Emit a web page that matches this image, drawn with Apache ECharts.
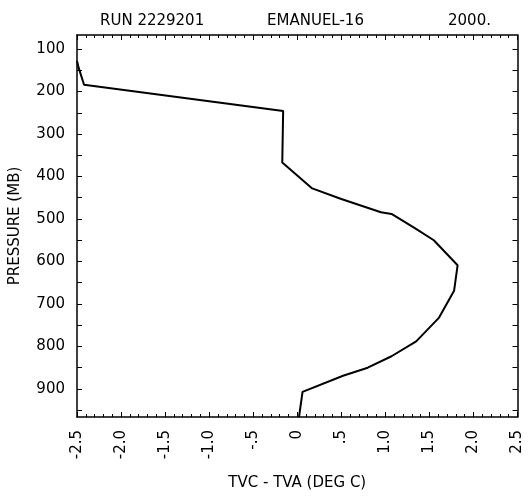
<!DOCTYPE html>
<html><head><meta charset="utf-8">
<script src="https://cdn.jsdelivr.net/npm/echarts@6/dist/echarts.min.js"></script>
<style>html,body{margin:0;padding:0;background:#fff}#c{width:529px;height:496px}</style>
</head><body><div id="c"></div>
<script>
// Data
const tvcMinusTva = [-2.5, -2.48, -2.42, -0.16, -0.17, 0.17, 0.50, 0.95, 1.07, 1.33, 1.55, 1.82, 1.78, 1.61, 1.35, 1.07, 0.80, 0.52, 0.06, 0.02];
const pressure    = [128, 145, 184, 246, 367, 428, 453, 484, 488, 521, 550, 609, 669, 732, 788, 823, 850, 869, 907, 966];
const pressureLabels = [100, 200, 300, 400, 500, 600, 700, 800, 900];
const pressureTicks = [100,150,200,250,300,350,400,450,500,550,600,650,700,750,800,850,900,950];
const xLabelText = {'-2.5':'-2.5','-2':'-2.0','-1.5':'-1.5','-1':'-1.0','-0.5':'-.5','0':'0','0.5':'.5','1':'1.0','1.5':'1.5','2':'2.0','2.5':'2.5'};
const titles = ['RUN 2229201', 'EMANUEL-16', '2000.'];

const font = 'DejaVu Sans';
const chart = echarts.init(document.getElementById('c'));
const pts = tvcMinusTva.map((v, i) => [v, pressure[i]]);
const yBase = {type:'value', inverse:true, min:67, max:966, splitLine:{show:false},
  axisLine:{show:true, onZero:false, lineStyle:{color:'#000', width:1.5}}};
const tStyle = {fontFamily:font, fontSize:15, fontWeight:'normal', color:'#000'};
chart.setOption({
  animation:false,
  title: [
    {text:titles[0], left:95, top:9, textStyle:tStyle},
    {text:titles[1], left:262, top:9, textStyle:tStyle},
    {text:titles[2], left:443, top:9, textStyle:tStyle}
  ],
  grid:{left:73, right:11.5, top:35, bottom:76.5, containLabel:false},
  xAxis:[
    {type:'value', position:'bottom', min:-2.5, max:2.5, interval:0.5,
     name:'TVC - TVA (DEG C)', nameLocation:'middle', nameGap:59,
     nameTextStyle:{fontFamily:font, fontSize:15, color:'#000'},
     axisLine:{show:true, onZero:false, lineStyle:{color:'#000', width:1.5}},
     axisTick:{show:true, inside:true, length:5, lineStyle:{color:'#000'}},
     minorTick:{show:true, splitNumber:5, length:3, lineStyle:{color:'#000'}},
     splitLine:{show:false},
     axisLabel:{rotate:90, margin:13, fontFamily:font, fontSize:15, color:'#000',
       formatter:v => xLabelText[String(Math.round(v*10)/10)]}},
    {type:'value', position:'top', min:-2.5, max:2.5, interval:0.5,
     axisLine:{show:true, onZero:false, lineStyle:{color:'#000', width:1.5}},
     axisTick:{show:true, inside:true, length:5, lineStyle:{color:'#000'}},
     minorTick:{show:true, splitNumber:5, length:3, lineStyle:{color:'#000'}},
     splitLine:{show:false}, axisLabel:{show:false}}
  ],
  yAxis:[
    Object.assign({}, yBase, {position:'left',
      name:'PRESSURE (MB)', nameLocation:'middle', nameGap:54,
      nameTextStyle:{fontFamily:font, fontSize:15, color:'#000'},
      axisTick:{show:true, inside:true, length:5, customValues:pressureTicks, lineStyle:{color:'#000'}},
      axisLabel:{show:true, margin:12, customValues:pressureLabels, fontFamily:font, fontSize:15, color:'#000'}}),
    Object.assign({}, yBase, {position:'right',
      axisTick:{show:true, inside:true, length:5, customValues:pressureTicks, lineStyle:{color:'#000'}},
      axisLabel:{show:false}})
  ],
  series:[{type:'line', xAxisIndex:0, yAxisIndex:0, data:pts, showSymbol:false, symbol:'none',
    lineStyle:{color:'#000', width:2}, clip:true}]
});
</script></body></html>
